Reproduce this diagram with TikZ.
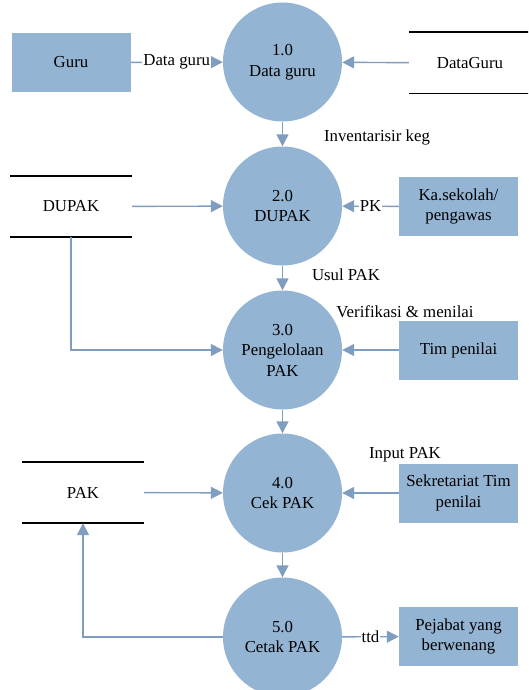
\documentclass[tikz,border=0pt]{standalone}
\usepackage{fontspec}
\setmainfont{Liberation Serif}
\newfontfamily\dfdfont{Liberation Serif}
\usepackage{tikz}
\usetikzlibrary{arrows.meta}
\usetikzlibrary{positioning}
\definecolor{procfill}{HTML}{94B4D3}
\definecolor{flowcol}{HTML}{7F9EBF}
\tikzstyle{process}=[circle,fill=procfill,minimum size=119pt,inner sep=0pt,align=center]
\tikzstyle{entity}=[rectangle,fill=procfill,minimum width=119pt,minimum height=59pt,inner sep=0pt,align=center]
\tikzstyle{store}=[minimum width=122pt,minimum height=61pt,inner sep=0pt]
\tikzstyle{storeline}=[draw=black,line width=1.6pt]
\tikzstyle{flow}=[draw=flowcol,line width=1.4pt,-{Triangle[length=12pt,width=12pt]},color=flowcol]
\tikzstyle{flowlabel}=[fill=white,inner sep=1pt,text=black]

\begin{document}
\begin{tikzpicture}[x=1pt,y=-1pt,
	every node/.style={font=\dfdfont\fontsize{16.8}{20.5}\selectfont}]
	\clip (0,0) rectangle (528,690);
	\fill[white] (0,0) rectangle (528,690);
	
	\node[process] (p1) at (282.5,62)  {1.0\\Data guru};
	\node[process] (p2) at (282.5,206) {2.0\\DUPAK};
	\node[process] (p3) at (282.5,350) {3.0\\Pengelolaan\\PAK};
	\node[process] (p4) at (282.5,493) {4.0\\Cek PAK};
	\node[process] (p5) at (282.5,637) {5.0\\Cetak PAK};
	
	\node[entity] (gu) at (71,62.5)    {Guru};
	\node[entity] (ks) at (458.5,206.5) {Ka.sekolah/\\pengawas};
	\node[entity] (tp) at (458.5,350)  {Tim penilai};
	\node[entity] (st) at (458.5,493)  {Sekretariat Tim\\penilai};
	\node[entity] (pj) at (458.5,636.5) {Pejabat yang\\berwenang};
	
	\node[store] (dg) at (470,63)   {DataGuru};
	\node[store] (du) at (71,206.5) {DUPAK};
	\node[store] (pk) at (83,492.5) {PAK};
	
	% store lines
	\foreach \s in {dg,du,pk}{
		\path[storeline] (\s.north west) -- (\s.north east)
		(\s.south west) -- (\s.south east);
	}
	
	\path[flow] (gu) -- node[flowlabel] (lgu) {Data guru} (p1);
	\path[flow] (dg) -- (p1);
	\path[flow] (p1) -- (p2);
	\path[flow] (du) -- (p2);
	\path[flow] (ks) -- node[flowlabel] (lpk) {PK} (p2);
	\path[flow] (p2) -- (p3);
	\path[flow] (du.south) |- (p3.west);
	\path[flow] (tp) -- (p3);
	\path[flow] (p3) -- (p4);
	\path[flow] (pk) -- (p4);
	\path[flow] (st) -- (p4);
	\path[flow] (p4) -- (p5);
	\path[flow] (p5.west) -| (pk.south);
	\path[flow] (p5) -- node[flowlabel] (ltt) {ttd} (pj);
	
	\node (lin) at (377,137) {Inventarisir keg};
	\node (lus) at (346,275) {Usul PAK};
	\node (lvm) at (405,312) {Verifikasi \& menilai};
	\node (lip) at (405,455) {Input PAK};
	
\end{tikzpicture}
\end{document}
